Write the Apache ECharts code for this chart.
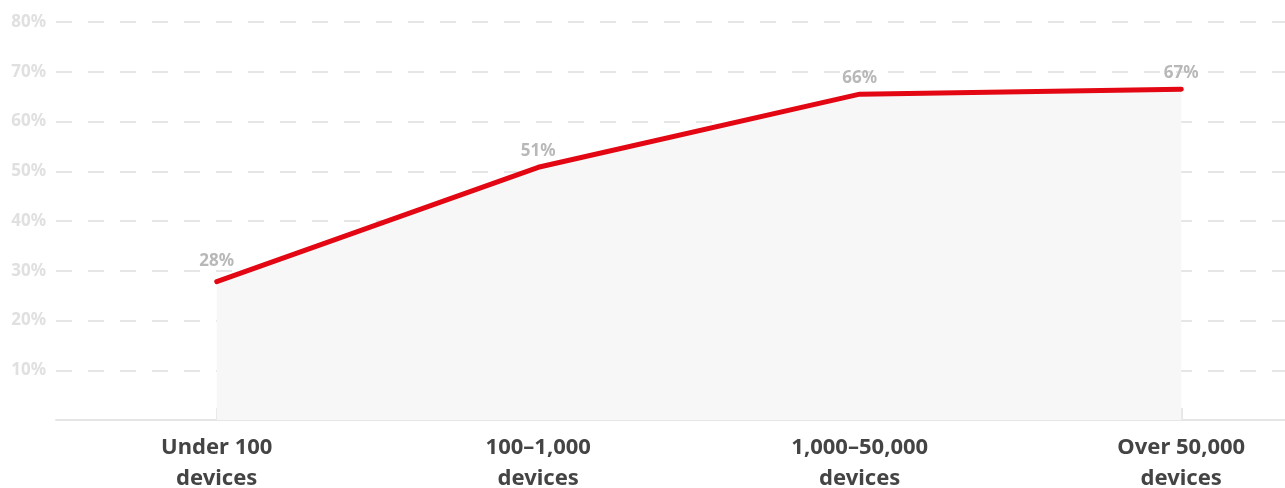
<!DOCTYPE html>
<html><head><meta charset="utf-8">
<script src="https://cdn.jsdelivr.net/npm/echarts@6/dist/echarts.min.js"></script>
<style>html,body{margin:0;padding:0;background:#fff}#c{width:1285px;height:488px}</style>
</head><body><div id="c"></div>
<script>
const categories = ['Under 100\ndevices', '100–1,000\ndevices', '1,000–50,000\ndevices', 'Over 50,000\ndevices'];
const values = [27.8, 50.8, 65.5, 66.5];
const labels = ['28%', '51%', '66%', '67%'];

const labelGap = [12, 8, 7, 7];
const chart = echarts.init(document.getElementById('c'), null, {renderer: 'canvas'});
chart.setOption({
  animation: false,
  grid: {left: 56, right: -57, top: 22, bottom: 68, outerBoundsMode: 'none', containLabel: false},
  xAxis: {
    type: 'category', data: categories, boundaryGap: true,
    axisLine: {lineStyle: {color: '#e6e6e6', width: 2}},
    axisTick: {show: true, alignWithLabel: true, inside: true, length: 12, lineStyle: {color: '#e6e6e6', width: 2}},
    axisLabel: {color: '#444', fontFamily: 'Noto Sans', fontWeight: 'bold', fontSize: 22, lineHeight: 31, margin: 12, hideOverlap: false, interval: 0}
  },
  yAxis: {
    type: 'value', min: 0, max: 80, interval: 10,
    axisLine: {show: false}, axisTick: {show: false},
    axisLabel: {color: '#e0e0e0', fontFamily: 'Noto Sans', fontWeight: 'bold', fontSize: 17, margin: 10,
      formatter: v => (v === 0 ? '' : v + '%')},
    splitLine: {show: true, lineStyle: {color: '#e6e6e6', width: 2, type: [16, 16]}}
  },
  series: [{
    type: 'line',
    data: values.map((v, i) => ({value: v, label: {distance: labelGap[i]}})),
    symbol: 'circle', symbolSize: 0.1, showSymbol: true,
    itemStyle: {color: '#e30613'},
    lineStyle: {color: '#e30613', width: 5, cap: 'round', join: 'round'},
    areaStyle: {color: '#f7f7f7', opacity: 1},
    label: {show: true, position: 'top', distance: 12, color: '#b8b8b8', fontFamily: 'Noto Sans', fontWeight: 'bold', fontSize: 17,
      formatter: p => labels[p.dataIndex]},
    labelLayout: {hideOverlap: false},
    z: 3
  }]
});
</script></body></html>
